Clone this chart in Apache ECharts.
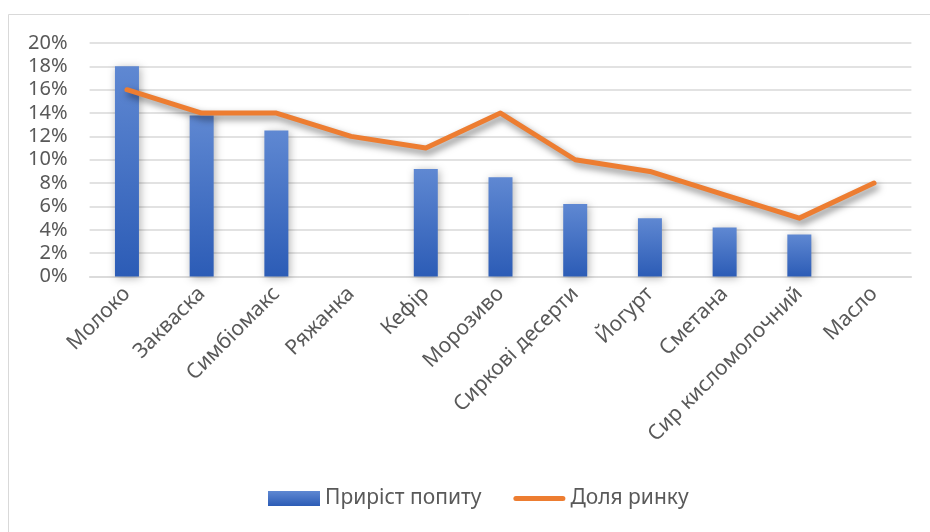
<!DOCTYPE html>
<html>
<head>
<meta charset="utf-8">
<script src="https://cdn.jsdelivr.net/npm/echarts@6/dist/echarts.min.js"></script>
<style>
  html, body { margin: 0; padding: 0; background: #fff; }
  #chart { width: 930px; height: 532px; }
</style>
</head>
<body>
<div id="chart"></div>
<script>
// Dairy product categories
const categories = ['Молоко', 'Закваска', 'Симбіомакс', 'Ряжанка', 'Кефір', 'Морозиво',
  'Сиркові десерти', 'Йогурт', 'Сметана', 'Сир кисломолочний', 'Масло'];
// Demand growth (bars), fraction of 1
const demandGrowth = [0.18, 0.138, 0.125, null, 0.092, 0.085, 0.062, 0.05, 0.042, 0.036, null];
// Market share (line), fraction of 1
const marketShare = [0.16, 0.14, 0.14, 0.12, 0.11, 0.14, 0.10, 0.09, 0.07, 0.05, 0.08];
// Y axis ticks
const yMin = 0, yMax = 0.2, yStep = 0.02;

const FONT = '"Noto Sans", "Open Sans", sans-serif';
const TEXT = '#595959';

const barFill = new echarts.graphic.LinearGradient(0, 0, 0, 1, [
  { offset: 0, color: '#5F88D2' },
  { offset: 1, color: '#2C5CB6' }
]);

const chart = echarts.init(document.getElementById('chart'), null, { renderer: 'canvas' });
chart.setOption({
  animation: false,
  backgroundColor: '#fff',
  textStyle: { fontFamily: FONT },
  graphic: [{
    type: 'rect',
    shape: { x: 8.5, y: 14.5, width: 1000, height: 1000 },
    style: { fill: 'none', stroke: '#d9d9d9', lineWidth: 1 },
    silent: true, z: -1
  }],
  grid: { left: 89.6, right: 18.6, top: 43, bottom: 255.5, containLabel: false },
  legend: {
    bottom: 18,
    left: 263,
    itemWidth: 52,
    itemHeight: 15,
    itemGap: 32,
    textStyle: { fontFamily: FONT, fontSize: 21, color: TEXT },
    data: [
      { name: 'Приріст попиту', icon: 'rect', itemStyle: { color: barFill, shadowBlur: 0 } },
      { name: 'Доля ринку', icon: 'path://M2.5,0 L49.5,0 A2.5,2.5 0 0 1 49.5,5 L2.5,5 A2.5,2.5 0 0 1 2.5,0 Z',
        itemStyle: { color: '#ED7D31' } }
    ]
  },
  xAxis: {
    type: 'category',
    data: categories,
    axisLine: { lineStyle: { color: '#d9d9d9', width: 1.5 } },
    axisTick: { show: false },
    axisLabel: {
      interval: 0, rotate: 45, margin: 14,
      fontFamily: FONT, fontSize: 21, color: TEXT
    }
  },
  yAxis: {
    type: 'value',
    min: yMin, max: yMax, interval: yStep,
    axisLine: { show: false },
    axisTick: { show: false },
    splitLine: { lineStyle: { color: '#d9d9d9', width: 1.5 } },
    axisLabel: {
      margin: 22,
      fontFamily: FONT, fontSize: 20, color: TEXT,
      formatter: v => Math.round(v * 100) + '%'
    }
  },
  series: [
    {
      name: 'Приріст попиту',
      type: 'bar',
      data: demandGrowth,
      barWidth: 24,
      itemStyle: {
        color: barFill,
        shadowColor: 'rgba(0,0,0,0.3)',
        shadowBlur: 8,
        shadowOffsetX: 1.5,
        shadowOffsetY: 1.5
      }
    },
    {
      name: 'Доля ринку',
      type: 'line',
      data: marketShare,
      showSymbol: false,
      symbol: 'none',
      lineStyle: {
        color: '#ED7D31', width: 5, cap: 'round', join: 'round',
        shadowColor: 'rgba(0,0,0,0.5)',
        shadowBlur: 7,
        shadowOffsetX: 2.5,
        shadowOffsetY: 4
      },
      itemStyle: { color: '#ED7D31' },
      z: 3
    }
  ]
});
</script>
</body>
</html>
